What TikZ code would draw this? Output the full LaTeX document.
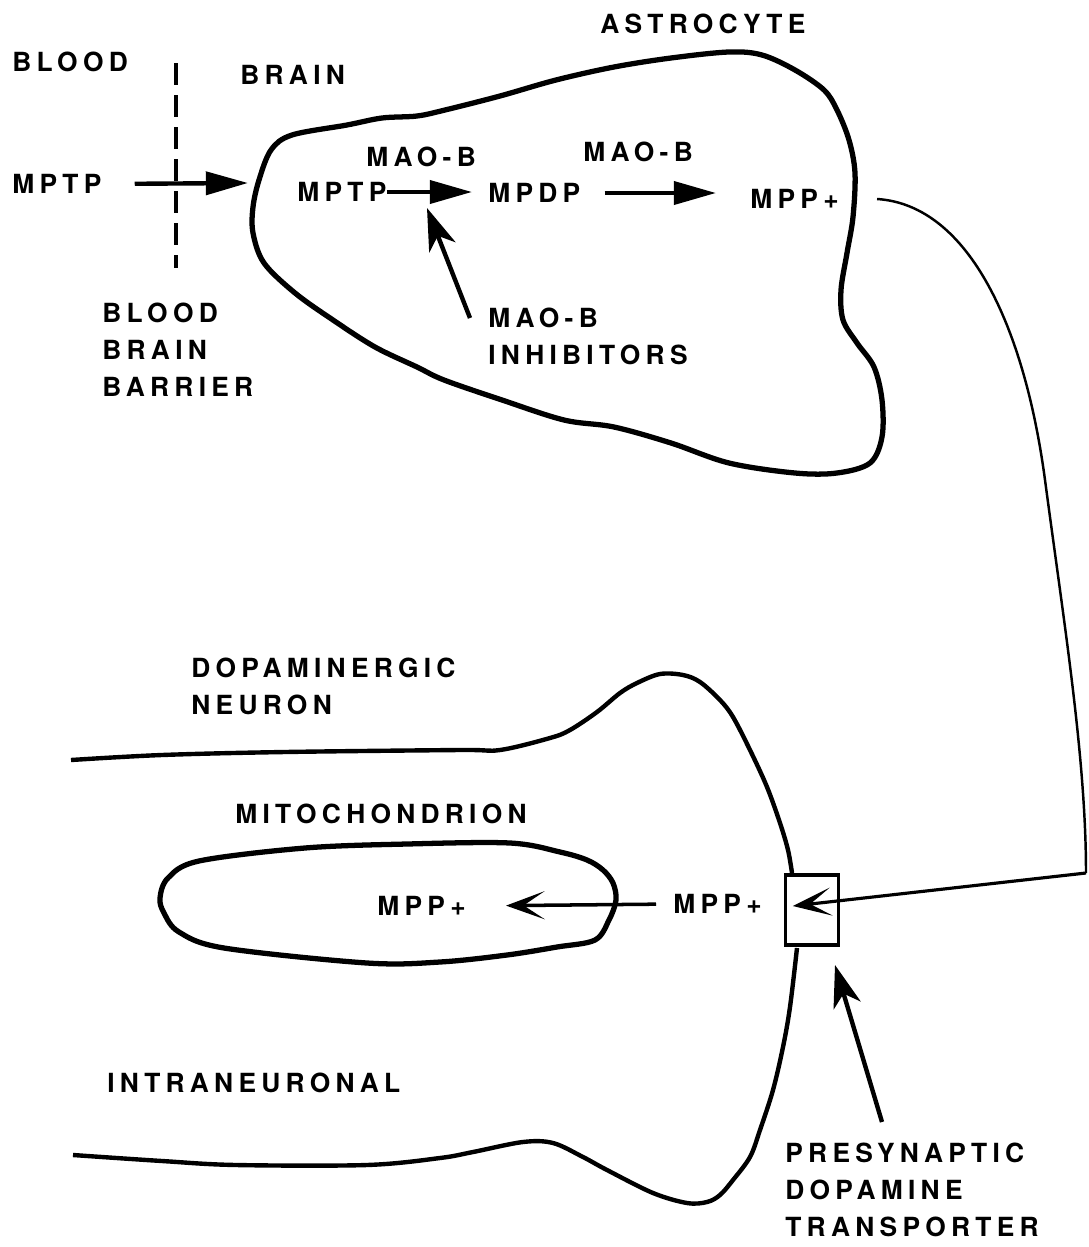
\documentclass[tikz,border=0pt]{standalone}
\usepackage{fontspec}
\setmainfont{TeX Gyre Heros}[LetterSpace=20]
\usetikzlibrary{arrows.meta, positioning}

\begin{document}
\begin{tikzpicture}[x=0.2mm, y=-0.2mm, font=\fontsize{15}{21}\selectfont\bfseries]
    \tikzstyle{txt} = [inner sep=0, anchor=west, align=left]
    \tikzstyle{tri} = [draw, line width=2.5pt, -{Triangle[length=24pt, width=13pt]}]
    \tikzstyle{pointer} = [draw, line width=2.5pt, -{Stealth[length=24pt, width=16pt, inset=7pt]}]
    \tikzstyle{barb} = [draw, line width=2pt, -{Stealth[length=22pt, width=16pt, inset=12pt]}]
    \tikzstyle{cell} = [draw, line width=3pt, line join=round]
    \tikzstyle{membrane} = [draw, line width=2.5pt, line join=round]
    \tikzstyle{wire} = [draw, line width=1.4pt]
    
    \useasboundingbox (0,0) rectangle (1088,1247);
    
    \node [txt] (blood) at (12,62) {BLOOD};
    \node [txt] (brain) at (240,75) {BRAIN};
    \node [txt] (astro) at (600,24) {ASTROCYTE};
    \node [txt] (mptp0) at (12,184) {MPTP};
    \node [txt] (bbb) at (102,350) {BLOOD\\BRAIN\\BARRIER};
    \coordinate (bbbtop) at (176,63);
    \coordinate (bbbbot) at (176,268);
    \path [draw, line width=2.8pt, dash pattern=on 4.4mm off 2mm] (bbbtop) -- (bbbbot);
    %
    \path [cell] plot [smooth cycle, tension=0.55] coordinates {
        (292,135) (347,125) (382,118) (417,116) (445,110) (500,96) (556,80)
        (614,67) (671,58) (729,52) (762,55) (795,70) (824,90) (837,110)
        (849,140) (855,173) (853,217) (847,253) (841,290) (843,320) (857,343)
        (874,367) (882,400) (882,437) (870,463) (837,473) (795,473) (729,463)
        (671,443) (614,427) (564,420) (502,400) (444,380) (417,367) (375,347)
        (333,320) (295,293) (264,263) (253,233) (253,207) (259,180) (271,150)};
    \coordinate (entry) at (248,183);
    \path [tri, shorten <=6.6mm] (mptp0.east) -- (entry);
    %
    \node [txt] (mptp1) at (297,192) {MPTP};
    \node [txt] (maob1) at (366,157) {MAO-B};
    \node [txt] (mpdp) at (488,193) {MPDP};
    \node [txt] (maob2) at (583,152) {MAO-B};
    \node [txt] (mpp1) at (750,199) {MPP+};
    \node [txt] (inhib) at (488,336) {MAO-B\\INHIBITORS};
    \path [tri, shorten >=3.2mm] (mptp1.east) -- (mptp1.east -| mpdp.west);
    \path [tri, shorten <=4.8mm, shorten >=6.8mm] (mpdp.east) -- (mpdp.east -| mpp1.west);
    \coordinate (inhtail) at (470,318);
    \coordinate (inhtip) at (427,208);
    \path [pointer] (inhtail) -- (inhtip);
    %
    \node [txt] (neuron) at (191,686) {DOPAMINERGIC\\NEURON};
    \node [txt] (mito) at (235,814) {MITOCHONDRION};
    \node [txt] (intra) at (107,1083) {INTRANEURONAL};
    \node [txt] (pdt) at (785,1190) {PRESYNAPTIC\\DOPAMINE\\TRANSPORTER};
    \path [membrane] plot [smooth, tension=0.55] coordinates {
        (71,760) (162,755) (285,752) (460,750) (500,750) (550,738) (570,730)
        (597,712) (620,693) (637,683) (660,674) (683,675) (700,682) (720,700)
        (733,717) (750,750) (767,787) (780,823) (788,850) (792,873)};
    \path [membrane] plot [smooth, tension=0.55] coordinates {
        (797,948) (790,1007) (783,1047) (773,1090) (760,1130) (750,1157)
        (733,1180) (720,1195) (707,1202) (687,1203) (653,1193) (607,1170)
        (583,1157) (553,1143) (523,1142) (473,1152) (440,1158) (367,1165)
        (236,1165) (162,1161) (73,1155)};
    \path [cell] plot [smooth cycle, tension=0.55] coordinates {
        (160,898) (168,878) (199,861) (305,848) (407,844) (510,843)
        (560,852) (587,860) (603,870) (613,883) (616,900) (609,920) (595,940)
        (557,947) (507,955) (440,962) (367,963) (224,948) (179,932) (164,913)};
    %
    \node [txt] (mpp2) at (377,906) {MPP+};
    \node [txt] (mpp3) at (673,904) {MPP+};
    \path [barb, shorten <=3.4mm, shorten >=8mm] (mpp3.west) -- (mpp2.east);
    \node [draw, line width=2pt, minimum width=10.6mm, minimum height=14mm, inner sep=0] (dat) at (812,910) {};
    \coordinate (bend) at (1086,873);
    \path [wire] ([xshift=7.6mm]mpp1.east) .. controls (970,205) and (1025,330) .. (1045,480)
        .. controls (1065,630) and (1086,760) .. (bend);
    \path [barb, line width=1.8pt] (bend) -- ([xshift=1.8mm, yshift=0.8mm]dat.west);
    \coordinate (pdttail) at (882,1122);
    \coordinate (pdttip) at (835,965);
    \path [pointer] (pdttail) -- (pdttip);
    
\end{tikzpicture}
\end{document}
